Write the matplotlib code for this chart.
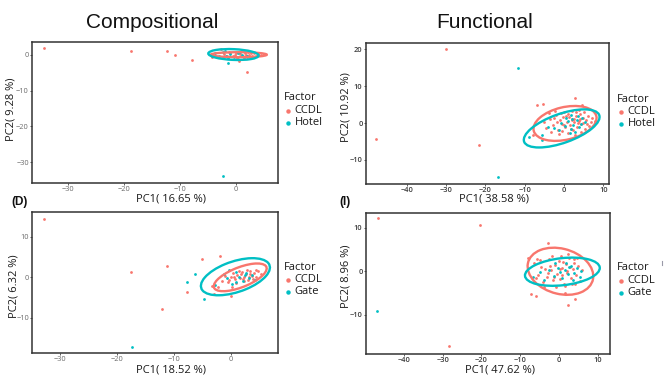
import matplotlib
matplotlib.use("Agg")
import matplotlib.pyplot as plt
from matplotlib.patches import Ellipse
from matplotlib.lines import Line2D
import numpy as np

W, H = 672, 386
RED = "#F8766D"
TEAL = "#00BFC4"

# ---------------- data ----------------
# Panel A: Compositional, CCDL vs Hotel
compA_ccdl_x = [-34.2, -18.75, -12.3, -10.9, -7.9, 2.0, 0.5, -4.2, -2.6,
                -2.2, -1.6, -1.0, -0.5, 0.0, 0.4, 0.8, 1.2, 1.6, 2.0, 2.4, 2.8, 3.2, 3.6, 4.0, 4.5,
                -0.2, 0.6, 1.4, 2.2, 3.0, -1.3, 0.2, 1.8, 2.6]
compA_ccdl_y = [1.9, 1.1, 1.2, -0.1, -1.4, -4.7, -1.6, -0.5, 1.7,
                0.3, -0.4, 0.5, -0.2, 0.6, -0.5, 0.2, -0.3, 0.5, -0.6, 0.1, -0.2, 0.4, -0.4, 0.2, -0.1,
                0.1, 0.8, -0.8, 0.7, -0.7, 0.9, -0.9, 0.1, 0.4]
compA_hotel_x = [-2.3, -1.5, -3.8, -3.0, -2.4, -1.8, -1.0, -0.4, 0.3, 1.0, -2.0, 0.8, -1.4, 2.0]
compA_hotel_y = [-33.9, -2.2, 0.4, -0.3, 0.8, -0.2, 0.2, -0.6, 0.4, -0.1, 1.2, 0.9, -1.0, -0.4]

# Panel B: Functional, CCDL vs Hotel
funcB_ccdl_x = [-30.0, -47.7, -21.7, 2.8, -6.9, -5.4, 4.5, -7.9,
                -3.5, -2.8, -2.0, -1.5, -1.0, -0.6, -0.2, 0.3, 0.7, 1.1, 1.5, 1.9, 2.3, 2.6, 3.0, 3.3,
                3.7, 4.1, 4.4, 4.8, 5.2, 5.6, 6.0, 6.4, 7.2, 7.8, -4.5, -5.0, -3.8, -2.3, 0.0, 2.0,
                3.8, 5.0, -1.2, 0.9, 2.8, 4.2, -0.4, 1.3, 2.1, 3.5, -2.5, 0.5, 4.7, -3.2, 1.7, 3.1,
                5.8, -1.8, 6.8, 2.5, 0.1, -0.9, 4.0]
funcB_ccdl_y = [20.1, -4.2, -6.0, 6.8, 4.9, 5.2, 4.9, -3.1,
                1.2, -0.5, 2.1, -1.8, 0.8, -0.2, 1.6, -1.1, 0.4, 2.4, -0.6, 1.0, -2.0, 0.2, 1.8, -1.2,
                0.6, 2.5, -0.3, 1.3, -1.6, 0.9, 2.0, -0.8, 1.4, 0.5, -1.3, 0.4, 2.6, 3.2, 3.0, 3.4,
                3.6, 3.1, -3.0, -2.8, -3.3, -2.5, -2.2, 1.7, 0.7, -0.1, 1.5, 2.0, 0.1, -2.4, -1.6, 2.9,
                -0.2, 0.3, 0.3, 1.2, -0.4, 2.6, 1.1]
funcB_hotel_x = [-11.6, -16.7, -8.9, -5.6, -5.5, 1.7,
                 -4.0, -2.6, -1.2, 0.2, 1.0, 1.8, 2.4, 3.2, 3.9, 4.6, 5.3, 2.9, 0.6, -0.8, 1.4, 3.6, 2.0, 4.3]
funcB_hotel_y = [14.8, -14.6, -3.9, -3.2, -4.6, 2.1,
                 -1.0, -1.4, -2.0, -0.8, 0.6, -1.6, -0.4, 0.8, -1.0, 1.5, 0.4, -2.4, 1.4, 0.0, -2.8, 1.9, 1.1, -0.2]

# Panel D: Compositional, CCDL vs Gate
compD_ccdl_x = [-32.8, -17.5, -11.2, -12.1, -5.0, -1.9, -7.7, -3.2, -2.9, 0.05,
                -1.5, -1.0, -0.5, 0.0, 0.4, 0.8, 1.2, 1.6, 2.0, 2.3, 2.7, 3.0, 3.4, 3.7, 4.1, 4.5,
                4.9, 5.3, 1.0, 2.4, 3.2, 0.6, 1.8, 2.9, 3.9, -0.2, 1.4, 4.4, 2.1, 3.5, -2.2, 0.2]
compD_ccdl_y = [14.5, 1.4, 2.7, -7.9, 4.6, 5.3, -3.6, -2.1, -4.1, -4.7,
                -0.8, 0.4, -1.2, 0.2, 1.0, -0.5, 0.6, -0.2, 1.2, 0.0, 0.8, -0.6, 1.5, 0.4, 1.1, 0.2,
                1.6, 0.9, -1.4, -1.0, 0.1, 0.1, 0.9, 1.9, -0.3, -0.6, 1.5, 1.9, -0.4, 0.9, -2.5, -2.3]
compD_gate_x = [-17.3, -7.6, -6.3, -4.6,
                -2.8, -1.2, -0.6, 0.3, 0.9, 1.5, 2.2, 2.8, 3.3, 3.8, 4.3, 1.0, -0.3, 2.5]
compD_gate_y = [-17.1, -1.1, 0.8, -5.3,
                -1.8, 0.9, -0.2, -1.6, 1.3, 0.2, -0.8, 1.1, -0.2, 0.7, -0.6, -1.2, 1.7, 0.5]

# Panel I: Functional, CCDL vs Gate
funcI_ccdl_x = [-46.8, -20.4, -28.4, -2.9, -7.2, -5.8, 2.4, 4.1, 1.6, -7.9, -5.6,
                -6.5, -5.5, -4.8, -4.0, -3.5, -3.0, -2.5, -2.0, -1.5, -1.0, -0.5, 0.0, 0.4, 0.9, 1.3,
                1.8, 2.2, 2.7, 3.1, 3.6, 4.0, 4.5, 5.0, 5.4, 5.9, -1.8, 0.6, 2.4, -3.8, -0.8, 1.5,
                3.3, -2.7, 0.2, 1.1, 2.9, 4.2, -4.5, -1.3, 3.8, -6.0, 0.7, 2.0, 4.8, -2.3]
funcI_ccdl_y = [12.1, 10.6, -17.2, 6.4, -5.3, -5.7, -7.7, -6.3, -5.0, 3.1, 2.9,
                1.8, -0.8, 2.6, -2.4, 0.6, -1.4, 2.8, 0.2, -2.0, 1.5, -0.6, 2.4, -1.8, 0.8, -2.9,
                1.6, -0.4, 3.0, -1.5, 0.5, 2.0, -0.8, 1.2, -2.2, 0.3, 3.5, 3.4, 4.0, -3.5, -3.6, -3.3,
                -3.0, -0.4, 0.5, 2.2, 1.0, -2.8, 0.9, -1.2, 2.8, -1.6, -0.9, 0.1, 3.0, 1.2]
funcI_gate_x = [-47.0,
                -6.8, -5.0, -3.8, -2.5, -1.2, -0.2, 0.8, 1.6, 2.4, 3.2, 4.0, 4.8, 5.5, 5.8, 1.9, 3.6,
                -0.9, 2.6, 0.3]
funcI_gate_y = [-9.2,
                -1.4, -0.2, -2.0, 0.3, -1.0, 0.8, -1.6, 0.4, -0.7, 1.1, -0.3, 0.8, -1.2, 0.1, 1.9, -1.9,
                2.0, 0.9, -0.1]

# 95% ellipses: centre x, centre y, semi-major, semi-minor, angle (deg)  [CCDL, other]
ellA_cx = [0.5, -0.45]; ellA_cy = [0.05, 0.1]; ellA_a = [5.0, 4.5]; ellA_b = [0.7, 1.5]; ellA_ang = [0, -4]
ellB_cx = [0.25, -0.6]; ellB_cy = [-0.1, -1.45]; ellB_a = [8.2, 10.2]; ellB_b = [4.4, 3.9]; ellB_ang = [14.5, 21]
ellD_cx = [1.7, 0.85]; ellD_cy = [0.0, 0.15]; ellD_a = [5.3, 6.7]; ellD_b = [2.3, 3.6]; ellD_ang = [32, 30]
ellI_cx = [0.4, 0.9]; ellI_cy = [0.0, -0.1]; ellI_a = [8.6, 9.7]; ellI_b = [5.2, 3.1]; ellI_ang = [-12, 5.6]

panels = [
    dict(rect=(32, 42, 278, 183), xlim=(-36.4, 7.5), ylim=(-35.8, 3.6),
         xt=[-30, -20, -10, 0], yt=[0, -10, -20, -30],
         c=(compA_ccdl_x, compA_ccdl_y), o=(compA_hotel_x, compA_hotel_y),
         ell=(ellA_cx, ellA_cy, ellA_a, ellA_b, ellA_ang), other="Hotel",
         xlab="PC1( 16.65 %)", xlp=(171, 198.5), ylab="PC2( 9.28 %)", ylp=(11, 109.5),
         leg=(284, 98), tcol="#6a6a6a", tw="normal"),
    dict(rect=(365.7, 43.3, 609.3, 184), xlim=(-50.4, 11.5), ylim=(-16.5, 21.6),
         xt=[-40, -30, -20, -10, 0, 10], yt=[20, 10, 0, -10],
         c=(funcB_ccdl_x, funcB_ccdl_y), o=(funcB_hotel_x, funcB_hotel_y),
         ell=(ellB_cx, ellB_cy, ellB_a, ellB_b, ellB_ang), other="Hotel",
         xlab="PC1( 38.58 %)", xlp=(494, 199.5), ylab="PC2( 10.92 %)", ylp=(346, 107.5),
         leg=(617, 99), tcol="#3a3a3a", tw="semibold"),
    dict(rect=(32.3, 211.7, 278.3, 352.7), xlim=(-34.9, 8.4), ylim=(-18.6, 16.2),
         xt=[-30, -20, -10, 0], yt=[10, 0, -10],
         c=(compD_ccdl_x, compD_ccdl_y), o=(compD_gate_x, compD_gate_y),
         ell=(ellD_cx, ellD_cy, ellD_a, ellD_b, ellD_ang), other="Gate",
         xlab="PC1( 18.52 %)", xlp=(171, 370), ylab="PC2( 6.32 %)", ylp=(13.5, 286.5),
         leg=(284, 267), tcol="#6a6a6a", tw="normal"),
    dict(rect=(365.7, 212.7, 610, 354.3), xlim=(-49.9, 13.2), ylim=(-19.0, 13.4),
         xt=[-40, -30, -20, -10, 0, 10], yt=[10, 0, -10],
         c=(funcI_ccdl_x, funcI_ccdl_y), o=(funcI_gate_x, funcI_gate_y),
         ell=(ellI_cx, ellI_cy, ellI_a, ellI_b, ellI_ang), other="Gate",
         xlab="PC1( 47.62 %)", xlp=(500, 369.5), ylab="PC2( 8.96 %)", ylp=(346, 276.5),
         leg=(617, 268), tcol="#3a3a3a", tw="semibold"),
]

fig = plt.figure(figsize=(W / 100, H / 100), dpi=100)
fig.patch.set_facecolor("white")

def fx(x):
    return x / W

def fy(y):
    return 1 - y / H

LABF = "Open Sans"

def fmt(v):
    return ("\u2212" + str(-v)) if v < 0 else str(v)

for p in panels:
    x0, y0, x1, y1 = p["rect"]
    ax = fig.add_axes([fx(x0), fy(y1), (x1 - x0) / W, (y1 - y0) / H])
    ax.set_xlim(*p["xlim"])
    ax.set_ylim(*p["ylim"])
    ax.set_xticks(p["xt"])
    ax.set_yticks(p["yt"])
    ax.set_xticklabels([fmt(v) for v in p["xt"]])
    ax.set_yticklabels([fmt(v) for v in p["yt"]])
    for s in ax.spines.values():
        s.set_color("#333333")
        s.set_linewidth(1.1)
    ax.tick_params(length=1.5, width=0.6, color="#444444", labelsize=5.3,
                   labelcolor=p["tcol"], pad=0.8)
    for lab in ax.get_xticklabels() + ax.get_yticklabels():
        lab.set_family(LABF)
        lab.set_weight(p["tw"])
    ax.scatter(p["c"][0], p["c"][1], s=4, color=RED, linewidths=0, zorder=2)
    ax.scatter(p["o"][0], p["o"][1], s=4, color=TEAL, linewidths=0, zorder=2)
    cx, cy, a, b, ang = p["ell"]
    for i, col in enumerate([RED, TEAL]):
        e = Ellipse((cx[i], cy[i]), 2 * a[i], 2 * b[i], angle=ang[i], fill=False,
                    edgecolor=col, linewidth=1.7, zorder=3 + i)
        ax.add_patch(e)
    # axis labels
    fig.text(fx(p["xlp"][0]), fy(p["xlp"][1]), p["xlab"], ha="center", va="center",
             fontsize=8, family=LABF, color="#1a1a1a")
    fig.text(fx(p["ylp"][0]), fy(p["ylp"][1]), p["ylab"], ha="center", va="center",
             rotation=90, fontsize=8, family=LABF, color="#1a1a1a")
    # legend
    lx, ly = p["leg"]
    fig.text(fx(lx), fy(ly), "Factor", ha="left", va="center", fontsize=8,
             family=LABF, color="#1a1a1a")
    for k, (name, col) in enumerate([("CCDL", RED), (p["other"], TEAL)]):
        yy = ly + 12.5 + 12.3 * k
        fig.add_artist(Line2D([fx(lx + 3.5)], [fy(yy)], marker="o", markersize=3.2,
                              color=col, markeredgewidth=0, transform=fig.transFigure))
        fig.text(fx(lx + 10.5), fy(yy), name, ha="left", va="center", fontsize=8,
                 family=LABF, color="#1a1a1a")

# titles and panel tags
fig.text(fx(152), fy(22), "Compositional", ha="center", va="center", fontsize=15,
         family="Liberation Sans", color="#111111")
fig.text(fx(485), fy(22), "Functional", ha="center", va="center", fontsize=15,
         family="Liberation Sans", color="#111111")
fig.text(fx(19.5), fy(202), "(D)", ha="center", va="center", fontsize=8.5,
         family="Liberation Sans", weight="bold", color="#111111")
fig.text(fx(345.5), fy(202), "(I)", ha="center", va="center", fontsize=8.5,
         family="Liberation Sans", weight="bold", color="#111111")
# small stray mark at right edge of the figure
fig.add_artist(Line2D([fx(662), fx(662)], [fy(261), fy(265)], color="#9a9aa8",
                      linewidth=0.8, transform=fig.transFigure))

fig.savefig("out.png", dpi=100)
